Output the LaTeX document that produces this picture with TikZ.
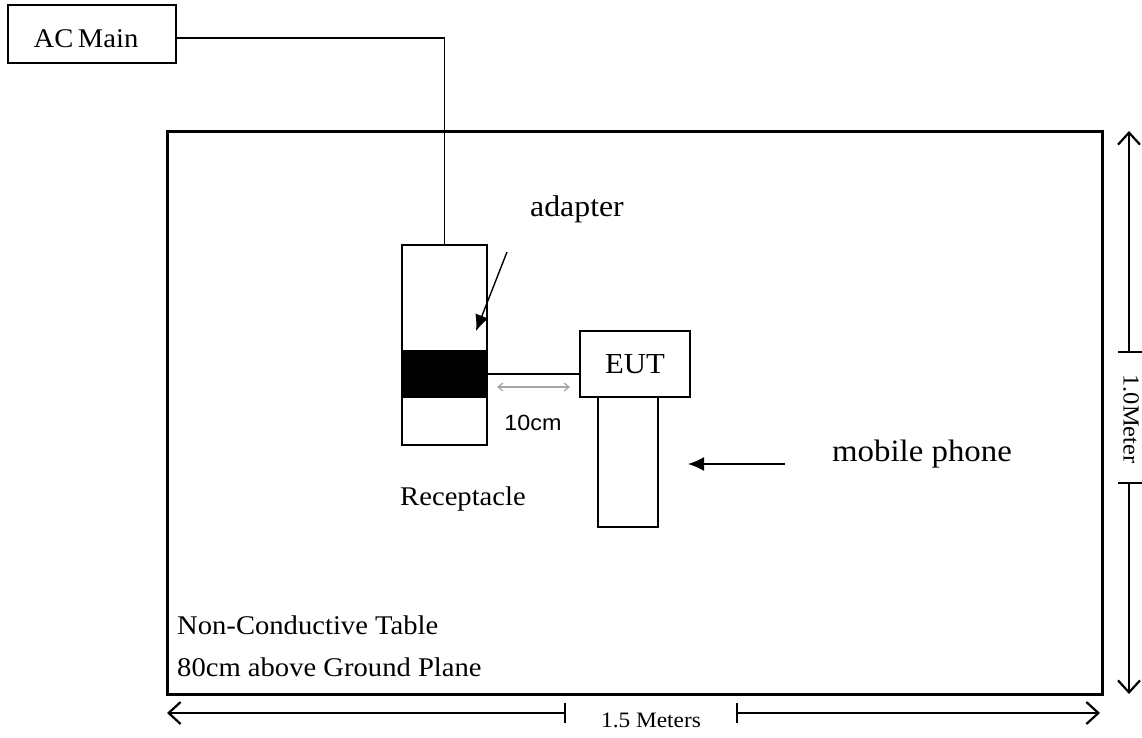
\documentclass[tikz,border=0pt]{standalone}
\usepackage{fontspec}
\setmainfont[FakeStretch=1.06]{Liberation Serif}
\newfontfamily\arialfont[FakeStretch=1.06]{Liberation Sans}
\usetikzlibrary{arrows.meta}
\tikzset{
  box/.style={draw, line width=1.2pt, inner sep=0pt, fill=white},
  txt/.style={inner sep=0pt},
  dimline/.style={line width=1.3pt},
  dimtip/.style={dimline, -{Straight Barb[length=12pt,width=22pt,line width=2.2pt]}},
  pointer/.style={line width=1.4pt, -{Latex[length=16pt,width=14pt]}},
}
\newcommand{\fsz}[1]{\fontsize{#1}{#1}\selectfont}
\begin{document}
\begin{tikzpicture}[x=1pt,y=-1pt]
\useasboundingbox (0,0) rectangle (1142,737);
% table
\node[draw, line width=3pt, minimum width=935pt, minimum height=563pt, inner sep=0pt] (table) at (634.5,412.5) {};
% AC main
\node[box, minimum width=168pt, minimum height=58pt] (ac) at (92,34) {};
\node[txt, font=\fsz{27}] (aclab) at (86,39) {AC\,Main};
% adapter
\node[box, minimum width=85pt, minimum height=200pt] (adapter) at (444.5,345) {};
\node[fill=black, minimum width=85pt, minimum height=48pt, inner sep=0pt] (plug) at (444.5,374) {};
% EUT and phone
\node[box, minimum width=110pt, minimum height=66pt, font=\fsz{29}] (eut) at (635,364) {EUT};
\node[box, minimum width=60pt, minimum height=130pt] (phone) at (628,462) {};
% connectors
\draw[line width=1.2pt] ([yshift=-4pt]ac.east) -| (adapter.north);
\draw[line width=1.2pt] (plug.east) -- (plug.east -| eut.west);
% 10cm
\coordinate (ga) at (497,387);
\coordinate (gb) at (570,387);
\draw[gray!70, line width=1.2pt, {Straight Barb[length=5pt,width=8pt]}-{Straight Barb[length=5pt,width=8pt]}] (ga) -- (gb);
\node[inner sep=0pt, font=\arialfont\fsz{22}] (tencm) at (533,423) {10cm};
% labels
\node[txt, font=\fsz{30}] (adlab) at (577,209) {adapter};
\coordinate (a1) at (507,252);
\coordinate (a2) at (476,331);
\draw[pointer] (a1) -- (a2);
\node[txt, font=\fsz{27}] (rec) at (463,499) {Receptacle};
\node[txt, font=\fsz{31}] (mob) at (922,454) {mobile phone};
\coordinate (m1) at (785,464);
\coordinate (m2) at (688,464);
\draw[pointer] (m1) -- (m2);
\node[txt, anchor=west, font=\fsz{27}] (nc) at (177,625) {Non-Conductive Table};
\node[txt, anchor=west, font=\fsz{27}] (gp) at (177,667) {80cm above Ground Plane};
% right dimension
\coordinate (rt) at (1129,131);
\coordinate (rb) at (1129,694);
\coordinate (rt2) at (1129,352);
\coordinate (rb2) at (1129,483);
\draw[dimtip] (rt2) -- (rt);
\draw[dimtip] (rb2) -- (rb);
\draw[dimline] (1118,352) -- (1142,352);
\draw[dimline] (1118,483) -- (1142,483);
\node[inner sep=0pt, rotate=-90, font=\fsz{23}] (onem) at (1131,419) {1.0Meter};
% bottom dimension
\coordinate (bl) at (167,713);
\coordinate (br) at (1100,713);
\coordinate (bl2) at (565,713);
\coordinate (br2) at (737,713);
\draw[dimtip] (bl2) -- (bl);
\draw[dimtip] (br2) -- (br);
\draw[dimline] (565,703) -- (565,723);
\draw[dimline] (737,703) -- (737,723);
\node[inner sep=0pt, font=\fsz{22}] (onefive) at (651,720) {1.5 Meters};
\end{tikzpicture}
\end{document}
